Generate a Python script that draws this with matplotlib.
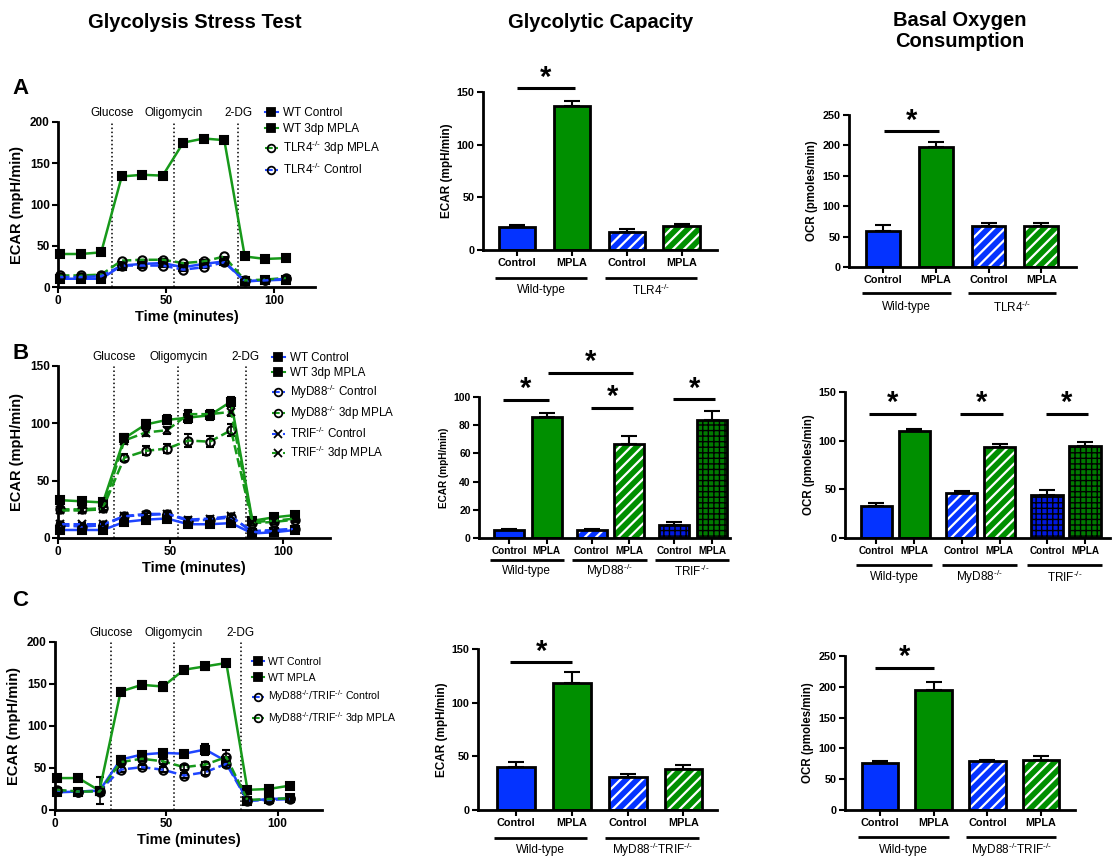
import matplotlib.pyplot as plt
import matplotlib.transforms as mtransforms
from matplotlib.lines import Line2D
import numpy as np

plt.rcParams['font.family'] = ['Liberation Sans', 'DejaVu Sans']
plt.rcParams['mathtext.fontset'] = 'custom'
plt.rcParams['mathtext.rm'] = 'Liberation Sans'
plt.rcParams['mathtext.bf'] = 'Liberation Sans:bold'
plt.rcParams['hatch.linewidth'] = 1.6

KO = r'$^{\text{-/-}}$'

# ---- glycolysis stress test (ECAR time course) ----
time_min = [1, 10.5, 20, 29.5, 39, 48.5, 58, 67.5, 77, 86.5, 96, 105.5]
injections = [25, 53.5, 83.5]
injection_names = ['Glucose', 'Oligomycin', '2-DG']

a_wt_ctrl = [10, 10, 10, 26, 28, 29, 24, 28, 31, 7, 8, 9]
a_wt_mpla = [40, 40, 42, 134, 136, 135, 175, 180, 178, 37, 34, 35]
a_tlr4_mpla = [14, 14, 15, 32, 33, 33, 29, 31, 37, 8, 9, 11]
a_tlr4_ctrl = [12, 12, 13, 26, 26, 26, 21, 24, 30, 7, 8, 10]

b_wt_ctrl = [7, 7, 7, 14, 16, 17, 12, 12, 13, 4, 5, 7]
b_wt_mpla = [33, 32, 31, 87, 99, 103, 105, 107, 119, 15, 18, 20]
b_myd_ctrl = [11, 10, 11, 19, 21, 21, 15, 16, 18, 6, 7, 8]
b_myd_mpla = [25, 25, 26, 70, 76, 78, 85, 84, 94, 13, 14, 16]
b_trif_ctrl = [12, 12, 12, 19, 20, 21, 16, 17, 19, 5, 6, 8]
b_trif_mpla = [24, 24, 25, 85, 92, 94, 108, 108, 110, 14, 15, 17]
b_wt_mpla_err = [3, 2, 2, 4, 4, 4, 5, 4, 4, 2, 2, 2]
b_myd_mpla_err = [2, 2, 2, 3, 4, 4, 6, 5, 5, 2, 2, 2]
b_trif_mpla_err = [2, 2, 2, 3, 3, 3, 4, 4, 4, 2, 2, 2]
b_ctrl_err = [1, 1, 1, 2, 2, 2, 2, 2, 2, 1, 1, 1]

c_wt_ctrl = [21, 22, 23, 60, 66, 68, 67, 72, 58, 11, 13, 14]
c_wt_mpla = [38, 38, 23, 141, 149, 147, 167, 171, 175, 24, 25, 29]
c_dko_ctrl = [23, 22, 23, 48, 51, 48, 41, 45, 55, 11, 12, 13]
c_dko_mpla = [24, 22, 22, 57, 61, 58, 51, 54, 63, 12, 13, 14]
c_wt_ctrl_err = [2, 2, 2, 4, 3, 3, 3, 6, 4, 1, 1, 1]
c_wt_mpla_err = [3, 2, 16, 4, 4, 5, 3, 4, 2, 2, 2, 2]
c_dko_ctrl_err = [1, 1, 1, 3, 2, 3, 3, 3, 4, 1, 1, 1]
c_dko_mpla_err = [1, 1, 1, 3, 3, 3, 3, 3, 9, 1, 1, 1]

# ---- bar panels ----
bar_labels = ['Control', 'MPLA']
cap_a = [22, 137, 17, 22.5]
cap_a_err = [2, 4, 3, 2]
cap_b = [5.5, 86, 5.5, 67, 9, 84]
cap_b_err = [0.8, 3, 0.8, 5, 2, 6]
cap_c = [40, 118, 31, 38]
cap_c_err = [5, 11, 3, 4]
ocr_a = [60, 198, 68, 68]
ocr_a_err = [9, 8, 4, 5]
ocr_b = [33, 110, 46, 93, 44, 95]
ocr_b_err = [3, 2, 2, 4, 5, 4]
ocr_c = [76, 194, 79, 81]
ocr_c_err = [4, 14, 2, 7]

groups_a = ['Wild-type', 'TLR4' + KO]
groups_b = ['Wild-type', 'MyD88' + KO, 'TRIF' + KO]
groups_c = ['Wild-type', 'MyD88' + KO + 'TRIF' + KO]

BLUE = '#0433ff'
GREEN = '#008f00'
LBLUE = '#1f45ff'
LGREEN = '#17991a'

BAR_STYLES = {
    'blue': (BLUE, None, None, 0),
    'green': (GREEN, None, None, 0),
    'blue_stripe': (BLUE, '///', 'white', 1.6),
    'green_stripe': (GREEN, '///', 'white', 1.6),
    'blue_grid': ('#0018e0', '+++', 'black', 1.0),
    'green_grid': ('#007a00', '+++', 'black', 1.0),
}

W, H = 1112, 859
fig = plt.figure(figsize=(W / 100, H / 100), dpi=100)


def rect(x0, y0, x1, y1):
    return [x0 / W, 1 - y1 / H, (x1 - x0) / W, (y1 - y0) / H]


def style_axes(ax, tick_size):
    for s in ['top', 'right']:
        ax.spines[s].set_visible(False)
    for s in ['left', 'bottom']:
        ax.spines[s].set_linewidth(2)
    ax.tick_params(width=1.5, length=4, labelsize=tick_size, pad=2)
    for lab in ax.get_yticklabels() + ax.get_xticklabels():
        lab.set_fontweight('bold')


def px_offset(dx, dy):
    return mtransforms.ScaledTranslation(dx / 100, dy / 100, fig.dpi_scale_trans)


def line_panel(pos, series, ylim, yticks, xmax, legend_xy, legend_size, spacing):
    ax = fig.add_axes(rect(*pos))
    handles = []
    for label, vals, errs, color, ls, mk in series:
        mfc = 'none' if mk == 'o' else 'black'
        ax.errorbar(time_min, vals, yerr=errs, color=color, ls=ls, lw=1.8,
                    marker=mk, ms=6, mfc=mfc, mec='black',
                    mew=1.5, ecolor='black', elinewidth=1.2, capsize=3,
                    clip_on=False, zorder=3)
        handles.append(Line2D([], [], color=color, ls=ls, lw=1.5, marker=mk,
                              ms=5.5, mfc=mfc, mec='black', mew=1.3))
    for x, name in zip(injections, injection_names):
        ax.axvline(x, color='black', ls=':', lw=1.1, zorder=1)
        ax.text(x, 1.0, name, transform=ax.get_xaxis_transform() + px_offset(0, 9),
                ha='center', va='center', fontsize=8.5)
    ax.set_xlim(0, xmax)
    ax.set_ylim(*ylim)
    ax.set_xticks([0, 50, 100])
    ax.set_yticks(yticks)
    ax.set_xlabel('Time (minutes)', fontsize=10.5, fontweight='bold', labelpad=2)
    ax.set_ylabel('ECAR (mpH/min)', fontsize=10.5, fontweight='bold', labelpad=4)
    style_axes(ax, 8.5)
    fig.legend(handles, [s[0] for s in series], loc='upper left',
               bbox_to_anchor=(legend_xy[0] / W, 1 - legend_xy[1] / H),
               frameon=False, fontsize=legend_size, handlelength=1.1,
               handletextpad=0.4, borderpad=0, borderaxespad=0,
               labelspacing=spacing)
    return ax


def bar_panel(pos, xlim, xpos, vals, errs, styles, width, ylim, yticks, ylabel,
              ylabel_size, tick_size, groups, group_span, line_dy, text_dy, sigs):
    ax = fig.add_axes(rect(*pos))
    for x, v, st in zip(xpos, vals, styles):
        face, hatch, hcol, hlw = BAR_STYLES[st]
        if hatch:
            bars = ax.bar(x, v, width, color=face, edgecolor=hcol, hatch=hatch,
                          linewidth=0, zorder=2)
            for p in bars.patches:
                if hasattr(p, 'set_hatch_linewidth'):
                    p.set_hatch_linewidth(hlw)
        else:
            ax.bar(x, v, width, color=face, linewidth=0, zorder=2)
        ax.bar(x, v, width, facecolor='none', edgecolor='black', linewidth=2, zorder=3)
    ax.errorbar(xpos, vals, yerr=[np.zeros(len(vals)), errs], fmt='none',
                ecolor='black', elinewidth=1.5, capsize=6, capthick=1.5, zorder=1)
    ax.set_xlim(*xlim)
    ax.set_ylim(*ylim)
    ax.set_yticks(yticks)
    ax.set_xticks(xpos, bar_labels * (len(xpos) // 2))
    ax.set_ylabel(ylabel, fontsize=ylabel_size, fontweight='bold', labelpad=3)
    style_axes(ax, tick_size)
    ax.tick_params(axis='x', labelsize=7.8 if len(xpos) == 4 else 7.2)
    line_tr = ax.get_xaxis_transform() + px_offset(0, -line_dy)
    text_tr = ax.get_xaxis_transform() + px_offset(0, -text_dy)
    for g, name in enumerate(groups):
        x0 = xpos[2 * g] + group_span[0]
        x1 = xpos[2 * g + 1] + group_span[1]
        ax.plot([x0, x1], [0, 0], color='black', lw=2, transform=line_tr,
                clip_on=False, solid_capstyle='butt')
        ax.text((x0 + x1) / 2, 0, name, transform=text_tr, ha='center',
                va='center', fontsize=8.5)
    for x0, x1, y, ys in sigs:
        ax.plot([x0, x1], [y, y], color='black', lw=2.2, clip_on=False,
                solid_capstyle='butt')
        ax.text((x0 + x1) / 2, ys, '*', ha='center', va='center', fontsize=21,
                fontweight='bold', clip_on=False)
    return ax


# titles and panel letters
fig.text(195 / W, 1 - 22 / H, 'Glycolysis Stress Test', ha='center', va='center',
         fontsize=14.5, fontweight='bold')
fig.text(601 / W, 1 - 22 / H, 'Glycolytic Capacity', ha='center', va='center',
         fontsize=14.5, fontweight='bold')
fig.text(960 / W, 1 - 31 / H, 'Basal Oxygen\nConsumption', ha='center', va='center',
         fontsize=14.5, fontweight='bold', linespacing=1.15)
for letter, y in [('A', 88), ('B', 353), ('C', 600)]:
    fig.text(12 / W, 1 - y / H, letter, ha='left', va='center', fontsize=16,
             fontweight='bold')

# row A time course
line_panel((58, 122, 315, 287), [
    ('WT Control', a_wt_ctrl, None, LBLUE, '-', 's'),
    ('WT 3dp MPLA', a_wt_mpla, None, LGREEN, '-', 's'),
    ('TLR4' + KO + ' 3dp MPLA', a_tlr4_mpla, None, LGREEN, '--', 'o'),
    ('TLR4' + KO + ' Control', a_tlr4_ctrl, None, LBLUE, '--', 'o'),
], (0, 200), [0, 50, 100, 150, 200], 119, (265, 107), 8.5, 0.35)

line_panel((58, 366, 330, 538), [
    ('WT Control', b_wt_ctrl, b_ctrl_err, LBLUE, '-', 's'),
    ('WT 3dp MPLA', b_wt_mpla, b_wt_mpla_err, LGREEN, '-', 's'),
    ('MyD88' + KO + ' Control', b_myd_ctrl, b_ctrl_err, LBLUE, '--', 'o'),
    ('MyD88' + KO + ' 3dp MPLA', b_myd_mpla, b_myd_mpla_err, LGREEN, '--', 'o'),
    ('TRIF' + KO + ' Control', b_trif_ctrl, b_ctrl_err, LBLUE, '--', 'x'),
    ('TRIF' + KO + ' 3dp MPLA', b_trif_mpla, b_trif_mpla_err, LGREEN, '--', 'x'),
], (0, 150), [0, 50, 100, 150], 121, (272, 352), 8.4, 0.28)

line_panel((55, 642, 322, 810), [
    ('WT Control', c_wt_ctrl, c_wt_ctrl_err, LBLUE, '-', 's'),
    ('WT MPLA', c_wt_mpla, c_wt_mpla_err, LGREEN, '-', 's'),
    ('MyD88' + KO + '/TRIF' + KO + ' Control', c_dko_ctrl, c_dko_ctrl_err, LBLUE, '--', 'o'),
    ('MyD88' + KO + '/TRIF' + KO + ' 3dp MPLA', c_dko_mpla, c_dko_mpla_err, LGREEN, '--', 'o'),
], (0, 200), [0, 50, 100, 150, 200], 120, (252, 657), 7.6, 0.55)

four = [0, 1, 2, 3]
six_cap = [0, 1, 2.2, 3.2, 4.4, 5.4]
six_ocr = [0, 1, 2.25, 3.25, 4.5, 5.5]
st4 = ['blue', 'green', 'blue_stripe', 'green_stripe']
st6 = ['blue', 'green', 'blue_stripe', 'green_stripe', 'blue_grid', 'green_grid']

# glycolytic capacity
bar_panel((483, 92, 717, 250), (-0.62, 3.64), four, cap_a, cap_a_err, st4, 0.67,
          (0, 150), [0, 50, 100, 150], 'ECAR (mpH/min)', 8.5, 7.8,
          groups_a, (-0.4, 0.28), 28, 40, [(0.0, 1.05, 153.5, 163)])
bar_panel((479, 397, 730, 538), (-0.8, 5.88), six_cap, cap_b, cap_b_err, st6, 0.8,
          (0, 100), [0, 20, 40, 60, 80, 100], 'ECAR (mpH/min)', 7.2, 7.5,
          groups_b, (-0.52, 0.46), 22, 33,
          [(-0.17, 1.07, 98, 106), (1.03, 3.3, 117, 125),
           (2.19, 3.3, 92, 100), (4.37, 5.49, 98.7, 106)])
bar_panel((478, 649, 717, 810), (-0.68, 3.6), four, cap_c, cap_c_err, st4, 0.68,
          (0, 150), [0, 50, 100, 150], 'ECAR (mpH/min)', 8.5, 7.8,
          groups_c, (-0.4, 0.28), 28, 40, [(-0.1, 1.0, 137.6, 147)])

# basal OCR
bar_panel((849, 115, 1076, 267), (-0.65, 3.66), four, ocr_a, ocr_a_err, st4, 0.64,
          (0, 250), [0, 50, 100, 150, 200, 250], 'OCR (pmoles/min)', 8.3, 7.8,
          groups_a, (-0.4, 0.28), 26, 40, [(0.02, 1.05, 223, 241)])
bar_panel((845, 392, 1110, 538), (-0.82, 6.16), six_ocr, ocr_b, ocr_b_err, st6, 0.82,
          (0, 150), [0, 50, 100, 150], 'OCR (pmoles/min)', 8.3, 7.8,
          groups_b, (-0.52, 0.46), 27, 39,
          [(-0.18, 1.04, 127, 139), (2.21, 3.35, 127, 139), (4.47, 5.58, 127, 139)])
bar_panel((845, 656, 1075, 810), (-0.65, 3.63), four, ocr_c, ocr_c_err, st4, 0.68,
          (0, 250), [0, 50, 100, 150, 200, 250], 'OCR (pmoles/min)', 8.3, 7.8,
          groups_c, (-0.4, 0.28), 27, 40, [(-0.09, 1.0, 230, 248)])

fig.savefig('out.png', dpi=100)
